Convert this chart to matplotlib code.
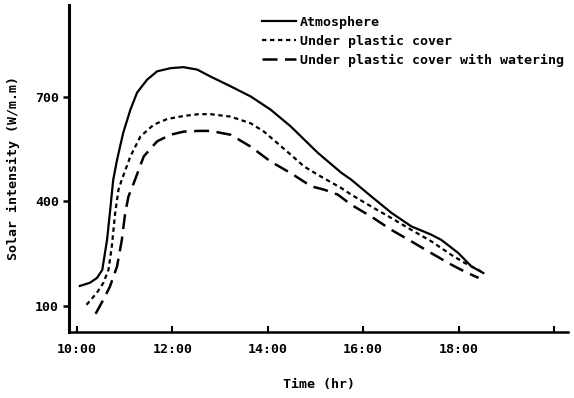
import matplotlib
matplotlib.use("Agg")
import matplotlib.pyplot as plt
from matplotlib.lines import Line2D

# Time of day (decimal hours) and solar intensity (W/m.m) for each condition
t_atm = [10.06, 10.27, 10.42, 10.53, 10.63, 10.69, 10.76, 10.84, 10.97, 11.12,
         11.26, 11.47, 11.68, 11.96, 12.23, 12.52, 12.80, 13.22, 13.64, 14.06,
         14.48, 15.05, 15.54, 15.75, 16.17, 16.59, 17.01, 17.43, 17.64, 17.99,
         18.27, 18.52]
v_atm = [157, 166, 180, 203, 289, 367, 462, 519, 597, 663,
         712, 749, 773, 782, 785, 778, 758, 730, 701, 663,
         615, 539, 482, 462, 414, 367, 328, 304, 289, 252,
         213, 194]

t_cover = [10.20, 10.41, 10.55, 10.66, 10.73, 10.80, 10.87, 10.94, 11.12, 11.33,
           11.61, 11.89, 12.24, 12.55, 12.80, 13.22, 13.64, 13.92, 14.20, 14.48,
           14.76, 15.05, 15.54, 15.75, 16.17, 16.59, 17.01, 17.43, 17.85, 18.13,
           18.48]
v_cover = [103, 136, 165, 203, 270, 366, 433, 462, 529, 586,
           620, 636, 645, 650, 650, 643, 624, 600, 567, 534,
           500, 476, 438, 419, 385, 352, 318, 285, 246, 223,
           198]

t_water = [10.39, 10.55, 10.69, 10.84, 10.94, 11.01, 11.08, 11.19, 11.40, 11.68,
           11.96, 12.24, 12.55, 12.80, 13.22, 13.64, 14.06, 14.48, 14.91, 15.19,
           15.47, 15.75, 16.17, 16.59, 17.01, 17.43, 17.85, 18.13, 18.42]
v_water = [77, 117, 155, 213, 289, 366, 414, 452, 529, 572,
           591, 600, 602, 602, 591, 557, 514, 481, 443, 433,
           419, 390, 356, 318, 285, 251, 218, 198, 180]

x_ticks = [10, 12, 14, 16, 18, 20]
x_labels = ["10:00", "12:00", "14:00", "16:00", "18:00", ""]
y_ticks = [100, 400, 700]

series_names = ["Atmosphere", "Under plastic cover",
                "Under plastic cover with watering"]

font = {"family": "DejaVu Sans Mono", "weight": "bold"}

fig = plt.figure(figsize=(5.74, 3.98), dpi=100)
ax = fig.add_axes([0.120, 0.166, 0.870, 0.822])

ls_atm = "-"
ls_cover = (0, (2.0, 1.6))
ls_water = (0, (6.0, 3.0))

line_kw = dict(color="black", solid_joinstyle="round", dash_joinstyle="round")
ax.plot(t_atm, v_atm, lw=1.6, ls=ls_atm, **line_kw)
ax.plot(t_cover, v_cover, lw=1.6, ls=ls_cover, **line_kw)
ax.plot(t_water, v_water, lw=1.8, ls=ls_water, **line_kw)

ax.set_xlim(9.83, 20.3)
ax.set_ylim(25, 964)

for side in ("top", "right"):
    ax.spines[side].set_visible(False)
ax.spines["left"].set_linewidth(2.2)
ax.spines["bottom"].set_linewidth(1.8)

ax.set_xticks(x_ticks)
ax.set_xticklabels(x_labels, fontdict=dict(font, size=9.5))
ax.set_yticks(y_ticks)
ax.set_yticklabels([str(v) for v in y_ticks], fontdict=dict(font, size=9.5))
ax.tick_params(axis="x", direction="in", length=4, width=1.5, pad=8)
ax.tick_params(axis="y", direction="out", length=4, width=1.8, pad=3)

ax.set_xlabel("Time (hr)", fontdict=dict(font, size=9.5), labelpad=16)
ax.set_ylabel("Solar intensity (W/m.m)", fontdict=dict(font, size=9.5),
              labelpad=11)

handles = [
    Line2D([], [], color="black", lw=1.6, ls=ls_atm),
    Line2D([], [], color="black", lw=1.6, ls=ls_cover),
    Line2D([], [], color="black", lw=1.8, ls=ls_water),
]
ax.legend(handles, series_names, loc="upper right", frameon=False,
          prop=dict(font, size=9.5), handlelength=2.6, handletextpad=0.3,
          labelspacing=0.45, bbox_to_anchor=(1.01, 0.995), borderaxespad=0.3)

fig.savefig("out.png", dpi=100, facecolor="white")
